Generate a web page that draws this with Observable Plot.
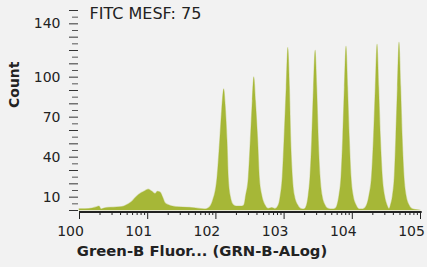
<!DOCTYPE html>
<html>
<head>
<meta charset="utf-8">
<script src="https://cdn.jsdelivr.net/npm/d3@7"></script>
<script src="https://cdn.jsdelivr.net/npm/@observablehq/plot@0.6"></script>
<style>
  html, body { margin: 0; padding: 0; background: #f2f2f2; }
  #chart { width: 427px; height: 267px; }
</style>
</head>
<body>
<div id="chart"></div>
<script>
// Histogram: bin position (log10 of fluorescence) and count
const binLog = [
  0, 0.088, 0.191, 0.264, 0.293, 0.323, 0.367, 0.455, 0.557, 0.631, 0.689, 0.762, 0.836, 0.909, 0.953, 0.982,
  1.019, 1.041, 1.070, 1.114, 1.151, 1.188, 1.224, 1.261, 1.320, 1.422, 1.613, 1.760, 1.848,
  1.891, 1.958, 2.023, 2.063, 2.092, 2.122, 2.141, 2.170, 2.189, 2.219, 2.262, 2.302, 2.390,
  2.419, 2.444, 2.482, 2.512, 2.541, 2.563, 2.587, 2.620, 2.644, 2.679, 2.727, 2.771, 2.826, 2.874,
  2.922, 2.952, 2.981, 3.006, 3.038, 3.062, 3.085, 3.104, 3.128, 3.157, 3.207, 3.255, 3.299,
  3.336, 3.361, 3.387, 3.412, 3.438, 3.462, 3.485, 3.509, 3.534, 3.563, 3.607, 3.651, 3.710,
  3.754, 3.783, 3.812, 3.842, 3.867, 3.891, 3.915, 3.938, 3.963, 3.988, 4.018, 4.062, 4.106, 4.164,
  4.216, 4.252, 4.289, 4.318, 4.345, 4.370, 4.394, 4.419, 4.447, 4.479, 4.516, 4.545,
  4.567, 4.597, 4.623, 4.645, 4.669, 4.692, 4.716, 4.739, 4.765, 4.795, 4.839, 4.883, 4.941, 5.0
];
const counts = [
  1.0, 1.0, 1.5, 2.5, 3.0, 0.8, 1.5, 2.0, 2.3, 2.6, 3.7, 6.0, 10, 13, 14, 15,
  15.6, 15, 14, 12.3, 14, 13.5, 10, 5.5, 3.7, 2.5, 2.0, 1.2, 0.8,
  1.5, 7, 24, 52, 75, 91, 80, 52, 24, 10, 4, 3, 3,
  4, 11, 24, 52, 82, 100, 82, 52, 24, 11, 3.7, 1.2, 1.8, 1.0,
  3.7, 11, 25, 52, 92, 122, 92, 52, 25, 11, 3.7, 1.0, 0.8,
  3.7, 11, 25, 52, 92, 120, 92, 52, 25, 11, 3.7, 1.2, 0.8,
  1.2, 3.7, 11, 25, 54, 92, 123, 92, 54, 25, 11, 3.7, 0.8, 0.8,
  3.7, 11, 25, 54, 92, 124.5, 92, 54, 25, 11, 3.7, 1.0,
  3.7, 11, 25, 54, 92, 126, 92, 54, 25, 11, 3.7, 1.0, 0.3, 0
];

const xTickValues = [0, 1, 2, 3, 4, 5];
const xTickLabels = ["100", "101", "102", "103", "104", "105"];
const yTickValues = [10, 40, 70, 100, 140];
const yTickLabels = ["10", "40", "70", "100", "140"];
const titleText = "FITC MESF: 75";
const xLabel = "Green-B Fluor... (GRN-B-ALog)";
const yLabel = "Count";

const data = binLog.map((e, i) => ({e, c: counts[i]}));

// minor ticks at 2..9 within each decade, major/minor y ticks
const xMinor = [];
for (let k = 0; k < 5; k++) for (let m = 2; m <= 9; m++) xMinor.push(k + Math.log10(m));
const yLong = d3.range(0, 151, 10);
const yShort = d3.range(5, 150, 10);

const chart = Plot.plot({
  width: 427,
  height: 267,
  marginLeft: 79,
  marginRight: 7,
  marginTop: 10,
  marginBottom: 57,
  style: {background: "#f2f2f2", fontFamily: "DejaVu Sans, Verdana, sans-serif", fontSize: "14px", color: "#222"},
  x: {domain: [0, 5], axis: null},
  y: {domain: [0, 150], axis: null},
  marks: [
    Plot.areaY(data, {x: "e", y: "c", fill: "#a6b737", stroke: "#a6b737", strokeOpacity: 0.35,
      strokeWidth: 1.2, curve: "monotone-x"}),
    Plot.ruleY([0], {x1: 0, x2: 5.025, stroke: "#222", strokeWidth: 2, dy: 1.5}),
    Plot.axisX({ticks: xTickValues, tickSize: 7, text: null, dy: 2, stroke: "#222", label: null}),
    Plot.axisX({ticks: xTickValues, tickSize: 0, tickPadding: 14, dy: 2, dx: -9, label: null,
      tickFormat: (d, i) => xTickLabels[i], fontSize: 14, fill: "#222"}),
    Plot.axisX({ticks: xMinor, tickSize: 3, text: null, dy: 2, stroke: "#222", label: null}),
    Plot.axisY({ticks: yLong, tickSize: 9, text: null, dx: -1, stroke: "#333", label: null}),
    Plot.axisY({ticks: yShort, tickSize: 6, text: null, dx: -1, stroke: "#555", label: null}),
    Plot.axisY({ticks: yTickValues, tickSize: 0, tickPadding: 19, label: null,
      tickFormat: (d, i) => yTickLabels[i], fontSize: 14, fill: "#222"}),
    Plot.text([yLabel], {frameAnchor: "left", dx: -65, dy: -2.5, rotate: -90,
      fontWeight: "bold", fontSize: 14, fill: "#222"}),
    Plot.text([xLabel], {frameAnchor: "bottom", dx: -48, dy: 45,
      fontWeight: "bold", fontSize: 14.8, fill: "#222"}),
    Plot.text([titleText], {frameAnchor: "top-left", dx: 10, dy: -3, lineAnchor: "top",
      textAnchor: "start", fontSize: 16, fill: "#222"})
  ]
});
document.getElementById("chart").appendChild(chart);
</script>
</body>
</html>
